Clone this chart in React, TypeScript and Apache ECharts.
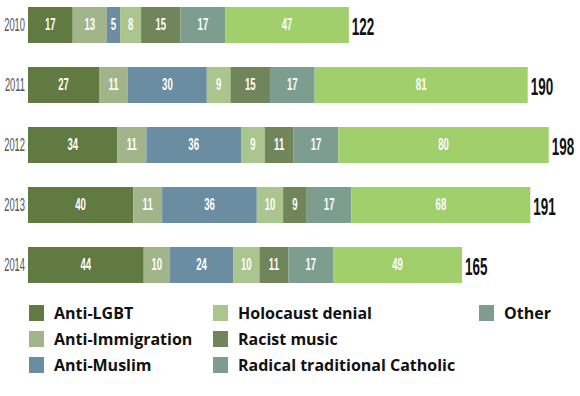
import React, { useEffect, useRef } from "react";
import * as echarts from "echarts";

const years = ["2010", "2011", "2012", "2013", "2014"];
const antiLGBT = [17, 27, 34, 40, 44];
const antiImmigration = [13, 11, 11, 11, 10];
const antiMuslim = [5, 30, 36, 36, 24];
const holocaustDenial = [8, 9, 9, 10, 10];
const racistMusic = [15, 15, 11, 9, 11];
const radicalCatholic = [17, 17, 17, 17, 17];
const other = [47, 81, 80, 68, 49];

const seriesDefs = [
  { name: "Anti-LGBT", data: antiLGBT, color: "#617a42" },
  { name: "Anti-Immigration", data: antiImmigration, color: "#a2b48a" },
  { name: "Anti-Muslim", data: antiMuslim, color: "#6a8da2" },
  { name: "Holocaust denial", data: holocaustDenial, color: "#abc58f" },
  { name: "Racist music", data: racistMusic, color: "#708559" },
  { name: "Radical traditional Catholic", data: radicalCatholic, color: "#7d9e8f" },
  { name: "Other", data: other, color: "#a1cf6b" },
];

const legendFont = "'Open Sans', sans-serif";
const condFont = "'Liberation Sans', Arial, sans-serif";

export default function App() {
  const ref = useRef<HTMLDivElement>(null);
  useEffect(() => {
    if (!ref.current) return;
    const chart = echarts.init(ref.current, null, { renderer: "svg" });
    const totals = years.map((_, i) => seriesDefs.reduce((s, d) => s + d.data[i], 0));

    const segLabels: number[][] = [];
    years.forEach((_, i) => {
      let cum = 0;
      seriesDefs.forEach((d) => {
        const v = d.data[i];
        segLabels.push([cum + v / 2, i, v]);
        cum += v;
      });
    });

    const series: any[] = seriesDefs.map((d) => ({
      name: d.name,
      type: "bar",
      stack: "all",
      barWidth: 36,
      data: d.data,
      itemStyle: { color: d.color },
    }));

    series.push({
      name: "segLabels",
      type: "custom",
      z: 10,
      silent: true,
      data: segLabels,
      encode: { x: 0, y: 1 },
      renderItem: (_p: any, api: any) => {
        const pt = api.coord([api.value(0), api.value(1)]);
        return {
          type: "text",
          x: pt[0],
          y: pt[1],
          scaleX: 0.6,
          style: {
            text: String(api.value(2)),
            fill: "#fff",
            fontFamily: condFont,
            fontWeight: "bold",
            fontSize: 16,
            align: "center",
            verticalAlign: "middle",
          },
        };
      },
    });

    series.push({
      name: "totals",
      type: "custom",
      z: 10,
      silent: true,
      data: totals.map((t, i) => [t, i, t]),
      encode: { x: 0, y: 1 },
      renderItem: (_p: any, api: any) => {
        const pt = api.coord([api.value(0), api.value(1)]);
        return {
          type: "text",
          x: pt[0] + 3,
          y: pt[1] + 1,
          scaleX: 0.56,
          style: {
            text: String(api.value(2)),
            fill: "#111",
            fontFamily: condFont,
            fontWeight: "bold",
            fontSize: 24,
            align: "left",
            verticalAlign: "middle",
          },
        };
      },
    });

    series.push({
      name: "years",
      type: "custom",
      z: 10,
      silent: true,
      data: years.map((_, i) => [0, i]),
      encode: { x: 0, y: 1 },
      renderItem: (_p: any, api: any) => {
        const idx = api.value(1);
        const pt = api.coord([0, idx]);
        return {
          type: "text",
          x: pt[0] - 3,
          y: pt[1],
          scaleX: 0.52,
          style: {
            text: years[idx],
            fill: "#555",
            fontFamily: condFont,
            fontSize: 18,
            align: "right",
            verticalAlign: "middle",
          },
        };
      },
    });

    const legendBase = {
      orient: "vertical",
      top: 305,
      padding: 0,
      itemWidth: 15,
      itemHeight: 16,
      itemGap: 10,
      icon: "rect",
      selectedMode: false,
      textStyle: {
        fontFamily: legendFont,
        fontWeight: "bold",
        fontSize: 16,
        color: "#111",
        padding: [0, 0, 0, 5],
      },
    };
    chart.setOption({
      animation: false,
      grid: { left: 28, top: -5, width: 526, height: 300, containLabel: false, outerBoundsMode: "none" },
      xAxis: { type: "value", min: 0, max: 200, show: false },
      yAxis: {
        type: "category",
        data: years,
        inverse: true,
        axisLine: { show: false },
        axisTick: { show: false },
        axisLabel: { show: false },
      },
      legend: [
        { ...legendBase, left: 29, data: ["Anti-LGBT", "Anti-Immigration", "Anti-Muslim"] },
        {
          ...legendBase,
          left: 213,
          data: ["Holocaust denial", "Racist music", "Radical traditional Catholic"],
        },
        { ...legendBase, left: 479, data: [{ name: "Other", itemStyle: { color: "#7d9e8f" } }] },
      ],
      series,
    });
    return () => chart.dispose();
  }, []);
  return <div ref={ref} style={{ width: 580, height: 396, position: "absolute", left: 0, top: 0 }} />;
}
